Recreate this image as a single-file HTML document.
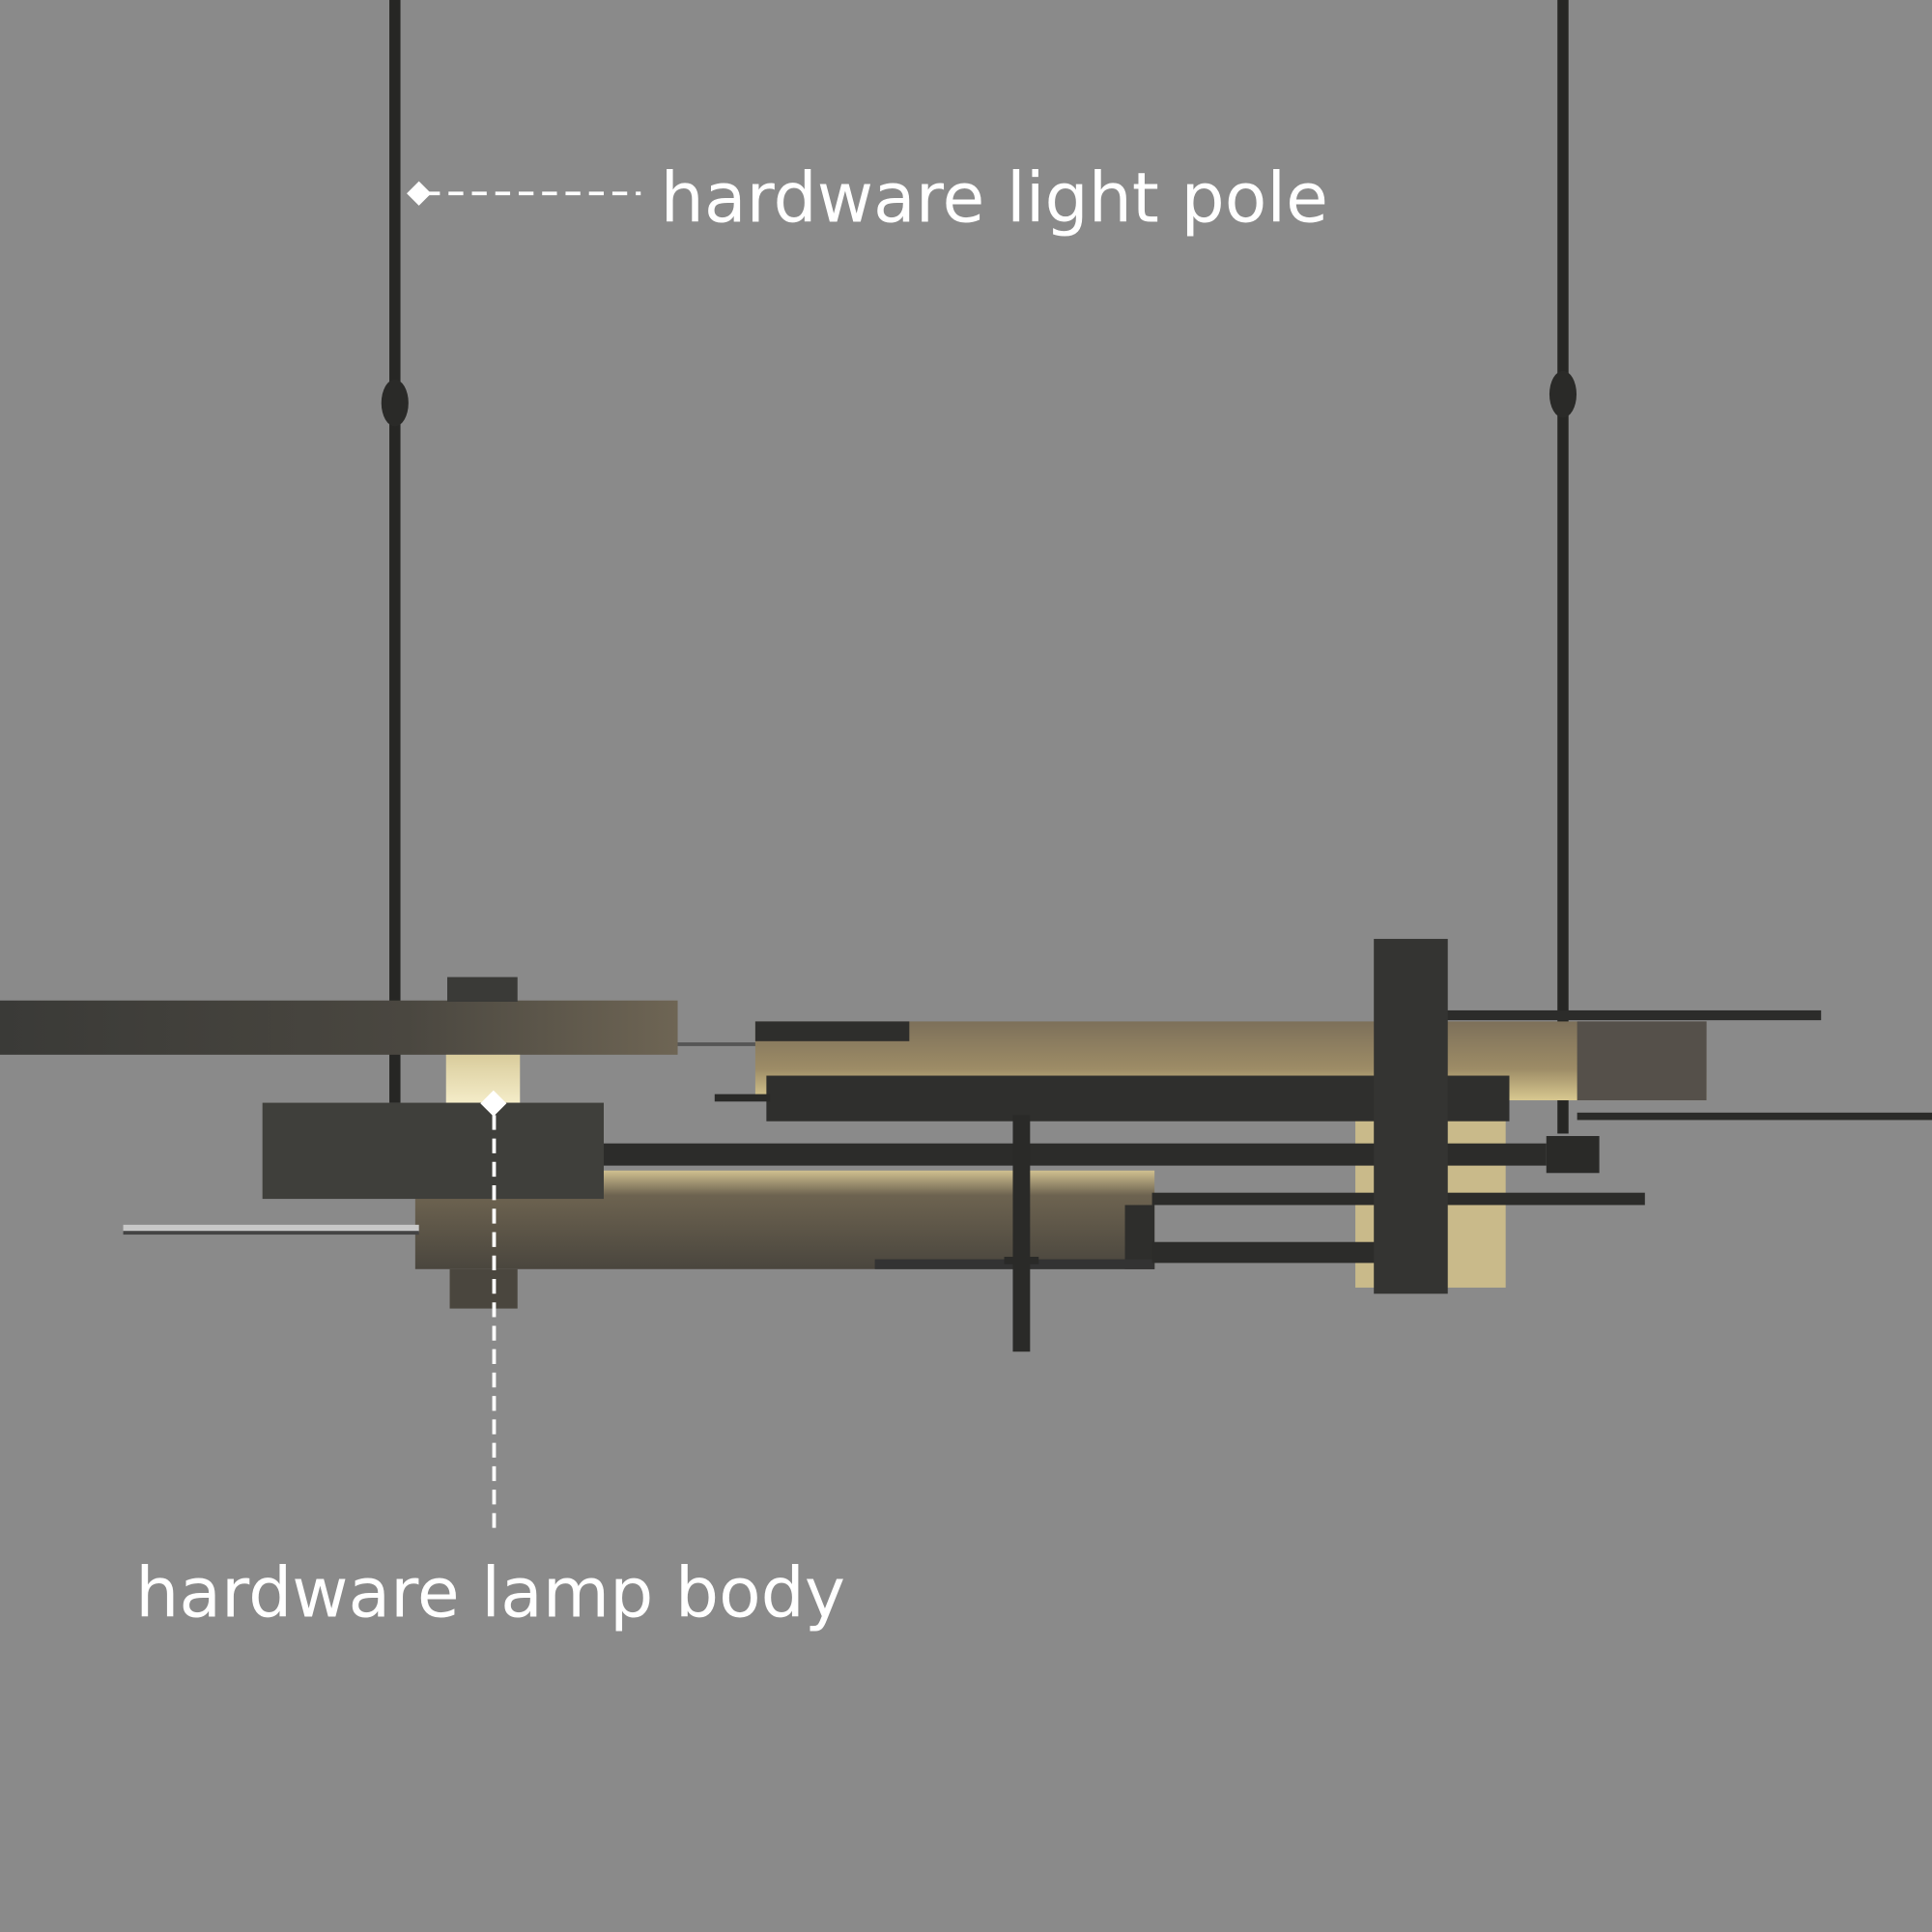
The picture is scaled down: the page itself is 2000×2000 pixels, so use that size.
<!DOCTYPE html>
<html><head><meta charset="utf-8"><style>
html,body{margin:0;padding:0;background:#8a8a8a;}
svg{display:block;}
</style></head><body>
<svg width="2000" height="2000" viewBox="0 0 1568 1568" xmlns="http://www.w3.org/2000/svg">
<defs>
<linearGradient id="lb" x1="0" x2="1" y1="0" y2="0">
<stop offset="0" stop-color="#3a3a37"/><stop offset="0.6" stop-color="#4a4740"/><stop offset="1" stop-color="#6e6554"/></linearGradient>
<linearGradient id="gold" x1="0" x2="0" y1="0" y2="1">
<stop offset="0" stop-color="#7d705a"/><stop offset="0.6" stop-color="#9d8c66"/><stop offset="1" stop-color="#d8c890"/></linearGradient>
<linearGradient id="low" x1="0" x2="0" y1="0" y2="1">
<stop offset="0" stop-color="#d0c090"/><stop offset="0.25" stop-color="#6d6350"/><stop offset="1" stop-color="#4a463e"/></linearGradient>
<linearGradient id="glow" x1="0" x2="0" y1="0" y2="1">
<stop offset="0" stop-color="#d9cc9c"/><stop offset="1" stop-color="#f4ecc8"/></linearGradient>
</defs>
<rect width="1568" height="1568" fill="#8a8a8a"/>
<rect x="316" y="0" width="9" height="895" fill="#262624"/>
<ellipse cx="320.5" cy="327" rx="11" ry="19" fill="#2a2a28"/>
<rect x="1264" y="0" width="9" height="920" fill="#262624"/>
<ellipse cx="1268.5" cy="320" rx="11" ry="19" fill="#2a2a28"/>
<rect x="0" y="812" width="550" height="44" fill="url(#lb)"/>
<rect x="363" y="793" width="57" height="20" fill="#3a3a37"/>
<rect x="362" y="856" width="60" height="39" fill="url(#glow)"/>
<rect x="550" y="846" width="70" height="3" fill="#555"/>
<rect x="1100" y="905" width="122" height="140" fill="#c9ba8a"/>
<rect x="613" y="829" width="772" height="64" fill="url(#gold)"/>
<rect x="613" y="829" width="125" height="16" fill="#2e2e2c"/>
<rect x="1280" y="829" width="105" height="64" fill="#55504a"/>
<rect x="622" y="873" width="603" height="37" fill="#2f2f2d"/>
<rect x="580" y="888" width="45" height="6" fill="#2a2a28"/>
<rect x="490" y="928" width="765" height="18" fill="#2c2c2a"/>
<rect x="1280" y="903" width="288" height="6" fill="#2a2a28"/>
<rect x="337" y="950" width="600" height="80" fill="url(#low)"/>
<rect x="913" y="978" width="24" height="52" fill="#2e2e2c"/>
<rect x="710" y="1022" width="227" height="8" fill="#333"/>
<rect x="365" y="1030" width="55" height="32" fill="#4a463e"/>
<rect x="100" y="994" width="240" height="6" fill="#c8c8c8"/>
<rect x="100" y="999" width="240" height="3" fill="#444"/>
<rect x="213" y="895" width="277" height="78" fill="#3f3f3b"/>
<rect x="935" y="968" width="400" height="10" fill="#2c2c2a"/>
<rect x="935" y="1008" width="205" height="17" fill="#2c2c2a"/>
<rect x="822" y="905" width="14" height="192" fill="#2a2a28"/>
<rect x="815" y="1020" width="28" height="6" fill="#2a2a28"/>
<rect x="1140" y="820" width="338" height="8" fill="#2c2c2a"/>
<rect x="1255" y="922" width="43" height="30" fill="#2a2a28"/>
<rect x="1115" y="762" width="60" height="288" fill="#343432"/>
<line x1="345" y1="157" x2="520" y2="157" stroke="#fff" stroke-width="3" stroke-dasharray="12,7"/>
<rect x="333" y="150" width="14" height="14" fill="#fff" transform="rotate(45 340 157)"/>
<text x="536" y="180" font-family="DejaVu Sans, Liberation Sans, sans-serif" font-size="56" fill="#fff" textLength="542" lengthAdjust="spacingAndGlyphs">hardware light pole</text>
<line x1="401" y1="905" x2="401" y2="1240" stroke="#fff" stroke-width="3" stroke-dasharray="12,7"/>
<rect x="393" y="888" width="15" height="15" fill="#fff" transform="rotate(45 400.5 895.5)"/>
<text x="110" y="1312" font-family="DejaVu Sans, Liberation Sans, sans-serif" font-size="56" fill="#fff" textLength="576" lengthAdjust="spacingAndGlyphs">hardware lamp body</text>
</svg>
</body></html>
